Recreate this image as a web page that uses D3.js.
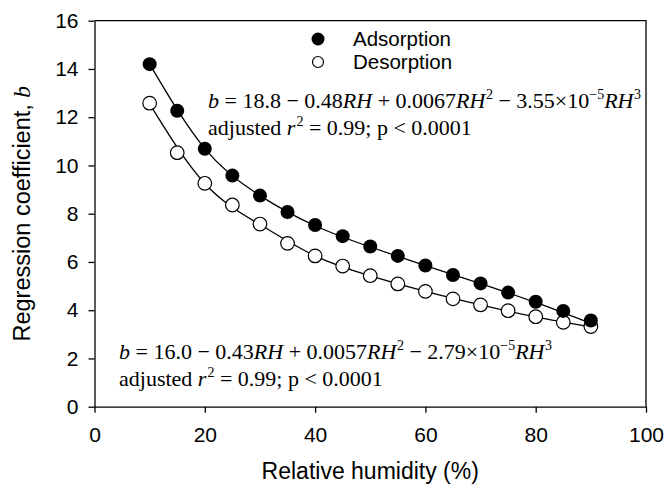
<html>
<head>
<meta charset="utf-8">
<script src="https://d3js.org/d3.v7.min.js"></script>
<style>
  body { margin: 0; background: white; }
  .axis text { font-family: "Liberation Sans", Arial, sans-serif; font-size: 21px; fill: #000; }
  .axis path, .axis line { stroke: #000; stroke-width: 1.3px; }
  .eq { font-family: "Liberation Serif", "Times New Roman", serif; font-size: 22px; fill: #000; }
  .lbl { font-family: "Liberation Sans", Arial, sans-serif; fill: #000; }
</style>
</head>
<body>
<div id="graph"></div>
<script>
  // measured points (relative humidity, %)
  const rh = [10, 15, 20, 25, 30, 35, 40, 45, 50, 55, 60, 65, 70, 75, 80, 85, 90];
  const adsorption = [14.2, 12.27, 10.69, 9.58, 8.75, 8.07, 7.53, 7.07, 6.64, 6.25, 5.85, 5.46, 5.11, 4.73, 4.35, 3.97, 3.57];
  const desorption = [12.58, 10.53, 9.26, 8.36, 7.57, 6.77, 6.25, 5.83, 5.43, 5.09, 4.78, 4.47, 4.22, 3.98, 3.73, 3.5, 3.32];

  // fitted curves
  const fitRh = [10, 20, 30, 40, 50, 60, 70, 80, 90];
  const adsFit = [14.2, 10.7, 8.75, 7.5, 6.62, 5.85, 5.1, 4.32, 3.45];
  const desFit = [12.55, 9.25, 7.55, 6.25, 5.42, 4.78, 4.22, 3.72, 3.3];

  const xTicks = [0, 20, 40, 60, 80, 100];
  const yTicks = [0, 2, 4, 6, 8, 10, 12, 14, 16];

  var margin = {top: 20.7, right: 21, bottom: 86.3, left: 94.5},
    width = 667 - margin.left - margin.right,
    height = 493 - margin.top - margin.bottom;

  var svg = d3.select('#graph')
    .append('svg')
    .attr('width', 667)
    .attr('height', 493);

  var g = svg.append('g')
    .attr('transform', 'translate(' + margin.left + ',' + margin.top + ')');

  var x = d3.scaleLinear().domain([0, 100]).range([0, width]);
  var y = d3.scaleLinear().domain([0, 16]).range([height, 0]);

  // frame (top and right)
  g.append('path')
    .attr('d', 'M0,0H' + width + 'V' + height)
    .attr('fill', 'none')
    .attr('stroke', '#000')
    .attr('stroke-width', 1.3);

  g.append('g')
    .attr('class', 'axis')
    .attr('transform', 'translate(0,' + height + ')')
    .call(d3.axisBottom(x).tickValues(xTicks).tickSize(6).tickSizeOuter(0).tickPadding(14));

  g.append('g')
    .attr('class', 'axis')
    .call(d3.axisLeft(y).tickValues(yTicks).tickSize(6).tickSizeOuter(0).tickPadding(10));

  // fitted lines
  var line = d3.line()
    .x(function (d) { return x(d[0]); })
    .y(function (d) { return y(d[1]); })
    .curve(d3.curveNatural);

  [adsFit, desFit].forEach(function (vals) {
    g.append('path')
      .datum(fitRh.map(function (r, i) { return [r, vals[i]]; }))
      .attr('d', line)
      .attr('fill', 'none')
      .attr('stroke', '#000')
      .attr('stroke-width', 1.3);
  });

  // points
  g.append('g').selectAll('circle')
    .data(rh.map(function (r, i) { return [r, desorption[i]]; }))
    .enter().append('circle')
    .attr('cx', function (d) { return x(d[0]); })
    .attr('cy', function (d) { return y(d[1]); })
    .attr('r', 6.8)
    .attr('fill', 'white')
    .attr('stroke', '#000')
    .attr('stroke-width', 1.2);

  g.append('g').selectAll('circle')
    .data(rh.map(function (r, i) { return [r, adsorption[i]]; }))
    .enter().append('circle')
    .attr('cx', function (d) { return x(d[0]); })
    .attr('cy', function (d) { return y(d[1]); })
    .attr('r', 7)
    .attr('fill', '#000');

  // legend
  svg.append('circle').attr('cx', 318).attr('cy', 39).attr('r', 6.5).attr('fill', '#000');
  svg.append('circle').attr('cx', 318).attr('cy', 62).attr('r', 5.5)
    .attr('fill', 'white').attr('stroke', '#000').attr('stroke-width', 1.2);
  svg.append('text').attr('class', 'lbl').attr('x', 353).attr('y', 46)
    .style('font-size', '20.5px').text('Adsorption');
  svg.append('text').attr('class', 'lbl').attr('x', 353).attr('y', 69)
    .style('font-size', '20.5px').text('Desorption');

  // equations
  function equation(x0, y0, parts) {
    var t = svg.append('text').attr('class', 'eq').attr('x', x0).attr('y', y0);
    parts.forEach(function (p) {
      var s = t.append('tspan').text(p[0]);
      if (p[1] === 'i') s.style('font-style', 'italic');
      if (p[1] === 'sup') s.attr('dy', -9).style('font-size', '14px');
      if (p[2]) s.attr('dx', p[2]);
      if (p[3]) s.attr('dy', p[3]);
    });
    return t;
  }

  equation(208, 108, [
    ['b', 'i'], [' = 18.8 \u2212 0.48'], ['RH', 'i'], [' + 0.0067'], ['RH', 'i'],
    ['2', 'sup', 0.5], [' \u2212 3.55\u00d710', null, 0, 9], ['\u22125', 'sup'], ['RH', 'i', 0, 9],
    ['3', 'sup', 0.5]
  ]);
  equation(208, 135, [
    ['adjusted '], ['r', 'i'], ['2', 'sup', 1], [' = 0.99; p < 0.0001', null, 0, 9]
  ]);

  equation(119, 359, [
    ['b', 'i'], [' = 16.0 \u2212 0.43'], ['RH', 'i'], [' + 0.0057'], ['RH', 'i'],
    ['2', 'sup', 0.5], [' \u2212 2.79\u00d710', null, 0, 9], ['\u22125', 'sup'], ['RH', 'i', 0, 9],
    ['3', 'sup', 0.5]
  ]);
  equation(119, 386, [
    ['adjusted '], ['r', 'i'], ['2', 'sup', 1], [' = 0.99; p < 0.0001', null, 0, 9]
  ]);

  // axis titles
  svg.append('text').attr('class', 'lbl')
    .attr('x', margin.left + width / 2).attr('y', 479)
    .attr('text-anchor', 'middle')
    .style('font-size', '23px')
    .text('Relative humidity (%)');

  var yt = svg.append('text').attr('class', 'lbl')
    .attr('transform', 'translate(30,' + (margin.top + height / 2) + ') rotate(-90)')
    .attr('text-anchor', 'middle')
    .style('font-size', '23.5px');
  yt.append('tspan').text('Regression coefficient, ');
  yt.append('tspan').style('font-family', '"Liberation Serif", serif').style('font-style', 'italic').text('b');
</script>
</body>
</html>
